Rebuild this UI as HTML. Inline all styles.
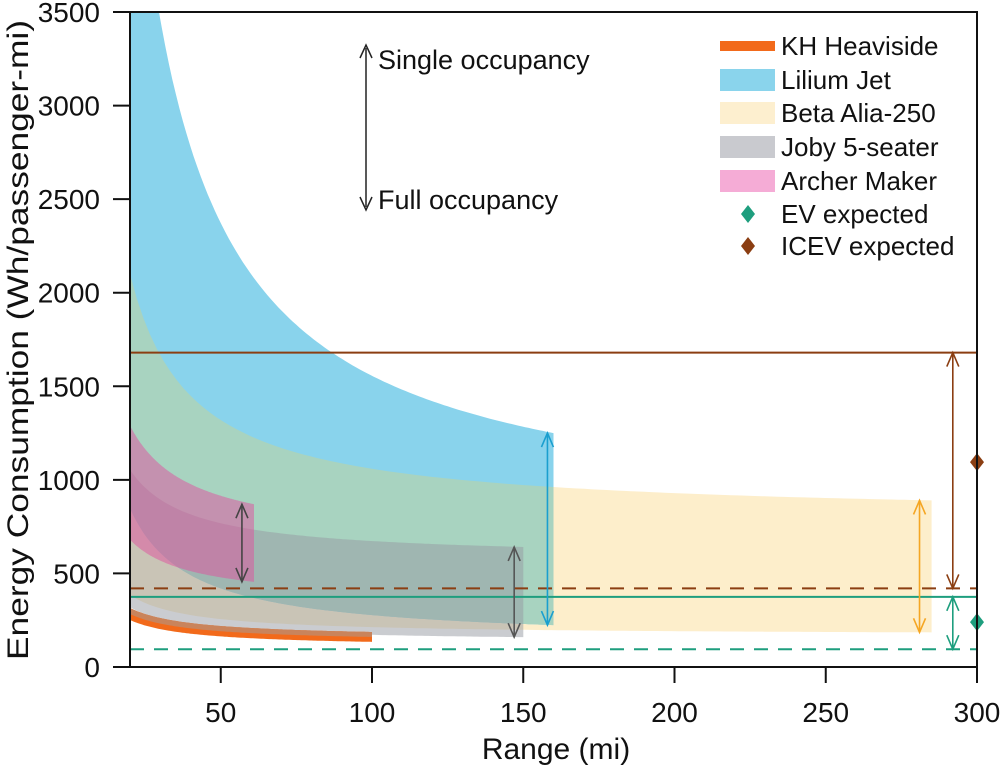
<!DOCTYPE html>
<html><head><meta charset="utf-8"><style>
html,body{margin:0;padding:0;background:#fff;}
svg{display:block;font-family:"Liberation Sans",Arial,sans-serif;}
</style></head><body>
<svg id="chart" width="1001" height="770" viewBox="0 0 1001 770">
<defs id="defs"></defs>
<g id="bands"></g>
<g id="lines"></g>
<g id="arrows"></g>
<g id="axes"></g>
<g>
<line x1="366" y1="48" x2="366" y2="207" stroke="#222" stroke-width="1.5"/>
<path d="M360 58 L366 45 L372 58 M360 197 L366 210 L372 197" fill="none" stroke="#222" stroke-width="1.5"/>
<text x="378" y="69" font-size="27" fill="#111">Single occupancy</text>
<text x="378" y="209" font-size="27" fill="#111">Full occupancy</text>
</g>
<g id="legend"></g>
</svg>
<script>
const bandNames=["Beta Alia-250","Lilium Jet","Joby 5-seater","Archer Maker","KH Heaviside"];
const bandXMax=[285,160,150,61,100];
const upperA=[26027,81600,9508,12494,3200];
const upperB=[799,740,578,665,155];
const lowerA=[4300,14246,3692,6700,2925];
const lowerB=[170,135,135,345,105];
const khMidA=3060, khMidB=130;
const arrowX=[281,158,147,57];
const evSolid=375, evDashed=95, iceSolid=1680, iceDashed=420;
const evDiamond=240, iceDiamond=1095;
const xTicks=[50,100,150,200,250,300];
const yTicks=[0,500,1000,1500,2000,2500,3000,3500];

const X0=130,X1=977,Y0=667,Y1=12,XMIN=20,XMAX=300,YMAX=3500;
const sx=v=>X0+(v-XMIN)/(XMAX-XMIN)*(X1-X0);
const sy=v=>Y0-v/YMAX*(Y0-Y1);
const NS="http://www.w3.org/2000/svg";
function mk(tag,attrs,parent){const e=document.createElementNS(NS,tag);for(const k in attrs)e.setAttribute(k,attrs[k]);parent.appendChild(e);return e;}
function bandPts(xmax,ua,ub,la,lb){
 let up=[],lo=[];
 for(let k=0;k<=120;k++){const x=XMIN+(xmax-XMIN)*k/120;up.push(sx(x).toFixed(1)+","+sy(ua/x+ub).toFixed(1));lo.push(sx(x).toFixed(1)+","+sy(la/x+lb).toFixed(1));}
 return up.concat(lo.reverse()).join(" ");
}
const slug=n=>n.toLowerCase().replace(/[^a-z0-9]+/g,'-');
const defs=document.getElementById('defs');
const clip=mk('clipPath',{id:'pc'},defs);mk('rect',{x:X0,y:Y1,width:X1-X0,height:Y0-Y1},clip);
const clipB=mk('clipPath',{id:'lil'},defs);mk('polygon',{points:bandPts(bandXMax[1],upperA[1],upperB[1],lowerA[1],lowerB[1])},clipB);
const bandsG=document.getElementById('bands');
bandsG.setAttribute('clip-path','url(#pc)');
const fills=["#fdeecb","#89d3ec","#969aa2","#e0509e","#f26a1b"];
const ops=[1,1,0.5,0.5,1];
bandNames.forEach((n,i)=>{
 const p=mk('polygon',{points:bandPts(bandXMax[i],upperA[i],upperB[i],lowerA[i],lowerB[i]),fill:fills[i],'fill-opacity':ops[i]},bandsG);
 
 
 if(i===1){
  const o=mk('polygon',{points:bandPts(bandXMax[0],upperA[0],upperB[0],lowerA[0],lowerB[0]),fill:'#a8d3c0','clip-path':'url(#lil)'},bandsG);
  
  
 }
});
const khTop=mk('polygon',{points:bandPts(bandXMax[4],upperA[4],upperB[4],khMidA,khMidB),fill:'#c9845c'},bandsG);


const linesG=document.getElementById('lines');
[[iceSolid,"#8b3e12",null,'icev-line'],[iceDashed,"#8b3e12","14 10",'icev-dashed-line'],[evSolid,"#1e9e7e",null,'ev-line'],[evDashed,"#1e9e7e","14 10",'ev-dashed-line']].forEach(l=>{
 const e=mk('line',{x1:X0,x2:X1,y1:sy(l[0]),y2:sy(l[0]),stroke:l[1],'stroke-width':2},linesG);
 if(l[2])e.setAttribute('stroke-dasharray',l[2]);
 
 
});
const arrG=document.getElementById('arrows');
function arrow(x,v1,v2,col,name){
 const a=sx(x),t=sy(v1),b=sy(v2);
 const g=mk('g',{stroke:col,'stroke-width':1.6,fill:'none'},arrG);
 
 
 mk('line',{x1:a,x2:a,y1:t,y2:b},g);
 mk('path',{d:`M${a-6} ${t+14} L${a} ${t} L${a+6} ${t+14} M${a-6} ${b-14} L${a} ${b} L${a+6} ${b-14}`},g);
}
const arrowCols=["#f5a623","#1a9fcf","#555","#444"];
arrowX.forEach((x,i)=>{arrow(x,upperA[i]/bandXMax[i]+upperB[i],lowerA[i]/bandXMax[i]+lowerB[i],arrowCols[i],'arrow-'+slug(bandNames[i]));});
arrow(292,iceSolid,iceDashed,"#8b3e12",'arrow-icev');
arrow(292,evSolid,evDashed,"#1e9e7e",'arrow-ev');
function diamond(v,col,name){const x=sx(300),y=sy(v);const d=mk('polygon',{points:`${x},${y-9} ${x+7},${y} ${x},${y+9} ${x-7},${y}`,fill:col},arrG);}
diamond(iceDiamond,"#8b3e12",'icev-diamond');
diamond(evDiamond,"#1e9e7e",'ev-diamond');
const ax=document.getElementById('axes');
mk('rect',{x:X0,y:Y1,width:X1-X0,height:Y0-Y1,fill:'none',stroke:'#111','stroke-width':2},ax);
xTicks.forEach(t=>{const x=sx(t);mk('line',{x1:x,x2:x,y1:Y0,y2:Y0+16,stroke:'#111','stroke-width':2},ax);const tx=mk('text',{x:x,y:Y0+55,'font-size':28,'text-anchor':'middle',fill:'#111'},ax);tx.textContent=t;});
yTicks.forEach(t=>{const y=sy(t);mk('line',{x1:X0-17,x2:X0,y1:y,y2:y,stroke:'#111','stroke-width':2},ax);const tx=mk('text',{x:X0-30,y:y+10,'font-size':28,'text-anchor':'end',fill:'#111'},ax);tx.textContent=t;});
let xt=mk('text',{x:556,y:759,'font-size':30,'text-anchor':'middle',fill:'#111'},ax);xt.textContent="Range (mi)";


let yt=mk('text',{x:0,y:0,'font-size':30,'text-anchor':'middle',fill:'#111',textLength:640,lengthAdjust:'spacingAndGlyphs',transform:'translate(28,340) rotate(-90)'},ax);yt.textContent="Energy Consumption (Wh/passenger-mi)";


const lg=document.getElementById('legend');
const legNames=["KH Heaviside","Lilium Jet","Beta Alia-250","Joby 5-seater","Archer Maker","EV expected","ICEV expected"];
const legCols=["#f26a1b","#8ad4ec","#fdefcf","#c9cacf","#f5acd6","#1e9e7e","#8b3e12"];
const legY=[46,80,113,147,181,214,246];
legNames.forEach((n,i)=>{
 const g=mk('g',{},lg);
 
 
 const y=legY[i];
 if(i===0)mk('rect',{x:720,y:y-5,width:55,height:10,fill:legCols[i]},g);
 else if(i<5)mk('rect',{x:720,y:y-11,width:55,height:22,fill:legCols[i]},g);
 else mk('polygon',{points:`748,${y-9} 755,${y} 748,${y+9} 741,${y}`,fill:legCols[i]},g);
 const t=mk('text',{x:781,y:y+9,'font-size':26,fill:'#111'},g);t.textContent=n;
});
</script>
</body></html>
